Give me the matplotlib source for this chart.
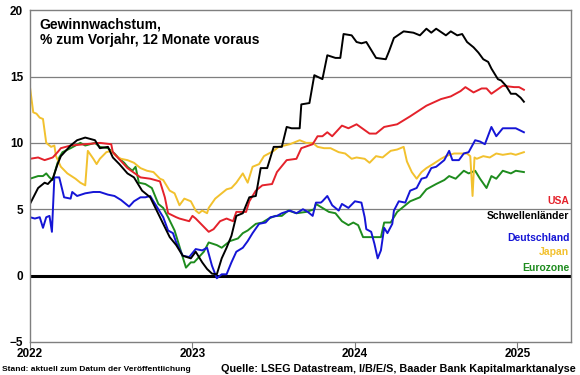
import numpy as np
import matplotlib
matplotlib.use("Agg")
import matplotlib.pyplot as plt

plt.rcParams['font.family'] = ['Liberation Sans', 'DejaVu Sans']
plt.rcParams['font.weight'] = 'bold'

# Zeitachse in Jahren (Dezimaljahre), Werte in % ggü. Vorjahr
usa_t = [2022.00, 2022.05, 2022.09, 2022.14, 2022.17, 2022.19, 2022.25, 2022.34, 2022.43, 2022.50,
         2022.51, 2022.60, 2022.68, 2022.74, 2022.80, 2022.83, 2022.85, 2022.90, 2022.92, 2022.98,
         2023.00, 2023.02, 2023.06, 2023.10, 2023.13, 2023.17, 2023.21, 2023.25, 2023.27, 2023.33,
         2023.35, 2023.39, 2023.43, 2023.49, 2023.52, 2023.58, 2023.64, 2023.67, 2023.74, 2023.77,
         2023.80, 2023.83, 2023.86, 2023.92, 2023.96, 2024.01, 2024.09, 2024.13, 2024.18, 2024.26,
         2024.34, 2024.44, 2024.53, 2024.59, 2024.65, 2024.68, 2024.73, 2024.78, 2024.81, 2024.84,
         2024.91, 2024.98, 2025.01, 2025.04]
usa_v = [8.8, 8.9, 8.7, 8.9, 9.3, 9.6, 9.8, 9.9, 10.0, 9.9,
         9.3, 8.1, 7.4, 7.3, 7.1, 5.9, 4.7, 4.4, 4.3, 4.1,
         4.5, 4.3, 3.8, 3.3, 3.5, 4.1, 4.3, 4.1, 4.8, 4.8,
         5.6, 6.4, 6.8, 6.9, 7.8, 8.7, 8.8, 9.6, 9.9, 10.5,
         10.5, 10.8, 10.5, 11.3, 11.1, 11.4, 10.7, 10.7, 11.2, 11.4,
         12.0, 12.8, 13.3, 13.5, 13.9, 14.2, 13.8, 14.1, 14.1, 13.7,
         14.3, 14.2, 14.2, 14.0]

em_t = [2022.00, 2022.05, 2022.09, 2022.11, 2022.14, 2022.17, 2022.19, 2022.25, 2022.29, 2022.34,
        2022.37, 2022.40, 2022.43, 2022.48, 2022.51, 2022.55, 2022.60, 2022.64, 2022.69, 2022.74,
        2022.78, 2022.82, 2022.86, 2022.90, 2022.94, 2022.99, 2023.02, 2023.06, 2023.09, 2023.12,
        2023.15, 2023.18, 2023.21, 2023.24, 2023.26, 2023.27, 2023.31, 2023.35, 2023.39, 2023.42,
        2023.46, 2023.50, 2023.55, 2023.58, 2023.61, 2023.66, 2023.67, 2023.72, 2023.75, 2023.80,
        2023.83, 2023.88, 2023.91, 2023.93, 2023.98, 2024.01, 2024.04, 2024.07, 2024.13, 2024.19,
        2024.21, 2024.24, 2024.30, 2024.36, 2024.40, 2024.44, 2024.47, 2024.50, 2024.56, 2024.59,
        2024.63, 2024.66, 2024.69, 2024.73, 2024.76, 2024.79, 2024.82, 2024.84, 2024.88, 2024.90,
        2024.93, 2024.96, 2024.99, 2025.02, 2025.04]
em_v = [5.4, 6.6, 7.0, 6.9, 7.3, 8.4, 9.0, 9.8, 10.2, 10.4,
        10.3, 10.2, 9.6, 9.7, 8.9, 8.4, 7.7, 7.4, 6.4, 5.9,
        4.9, 3.9, 2.9, 2.3, 1.5, 1.3, 1.8, 1.0, 0.5, 0.15,
        0.1, 1.3, 2.1, 3.0, 4.0, 4.5, 4.7, 5.9, 6.0, 8.1,
        8.1, 9.7, 9.7, 11.2, 11.1, 11.1, 12.9, 13.0, 15.1, 14.8,
        16.6, 16.4, 16.4, 18.2, 18.1, 17.6, 17.5, 17.6, 16.4, 16.3,
        16.9, 17.9, 18.4, 18.3, 18.1, 18.6, 18.3, 18.6, 18.1, 18.4,
        18.1, 18.2, 17.6, 17.2, 16.8, 16.3, 16.1, 15.6, 14.8, 14.7,
        14.3, 13.7, 13.7, 13.4, 13.1]

de_t = [2022.00, 2022.03, 2022.06, 2022.08, 2022.10, 2022.12, 2022.135, 2022.15, 2022.18, 2022.21,
        2022.25, 2022.26, 2022.29, 2022.34, 2022.39, 2022.43, 2022.48, 2022.52, 2022.56, 2022.61,
        2022.64, 2022.68, 2022.71, 2022.74, 2022.77, 2022.82, 2022.85, 2022.88, 2022.90, 2022.94,
        2022.98, 2023.02, 2023.06, 2023.09, 2023.12, 2023.15, 2023.18, 2023.21, 2023.24, 2023.27,
        2023.31, 2023.34, 2023.37, 2023.41, 2023.45, 2023.48, 2023.52, 2023.55, 2023.60, 2023.64,
        2023.68, 2023.71, 2023.74, 2023.76, 2023.79, 2023.80, 2023.83, 2023.86, 2023.90, 2023.92,
        2023.96, 2024.00, 2024.04, 2024.06, 2024.07, 2024.10, 2024.12, 2024.14, 2024.16, 2024.18,
        2024.20, 2024.23, 2024.24, 2024.27, 2024.31, 2024.34, 2024.38, 2024.41, 2024.44, 2024.47,
        2024.50, 2024.55, 2024.58, 2024.60, 2024.64, 2024.67, 2024.70, 2024.74, 2024.77, 2024.80,
        2024.84, 2024.87, 2024.91, 2024.96, 2024.99, 2025.04]
de_v = [4.4, 4.3, 4.4, 3.6, 4.4, 4.5, 3.3, 7.4, 7.4, 5.9,
        5.8, 6.3, 6.0, 6.2, 6.3, 6.3, 6.1, 6.0, 5.7, 5.2,
        5.6, 5.9, 5.9, 6.0, 5.4, 4.4, 3.4, 3.2, 2.5, 1.5,
        1.4, 2.0, 1.9, 2.1, 0.75, -0.2, 0.1, 0.1, 1.0, 1.8,
        2.1, 2.6, 3.2, 3.9, 4.0, 4.4, 4.5, 4.7, 4.9, 4.7,
        5.0, 4.8, 4.5, 5.5, 5.5, 5.6, 6.0, 5.3, 4.9, 5.4,
        5.1, 5.6, 5.5, 4.4, 3.5, 3.3, 2.4, 1.3, 1.9, 3.6,
        3.2, 3.9, 4.9, 5.6, 5.5, 6.4, 6.6, 7.3, 7.4, 8.1,
        8.2, 8.7, 9.4, 8.7, 8.7, 9.2, 9.3, 10.2, 10.1, 9.9,
        11.2, 10.5, 11.1, 11.1, 11.1, 10.8]

jp_t = [2022.00, 2022.02, 2022.04, 2022.06, 2022.08, 2022.10, 2022.13, 2022.15, 2022.16, 2022.19,
        2022.23, 2022.28, 2022.31, 2022.34, 2022.356, 2022.39, 2022.41, 2022.43, 2022.47, 2022.50,
        2022.53, 2022.56, 2022.60, 2022.64, 2022.68, 2022.72, 2022.76, 2022.80, 2022.82, 2022.86,
        2022.89, 2022.92, 2022.95, 2022.99, 2023.02, 2023.04, 2023.06, 2023.09, 2023.10, 2023.14,
        2023.18, 2023.21, 2023.24, 2023.27, 2023.31, 2023.34, 2023.37, 2023.41, 2023.44, 2023.47,
        2023.50, 2023.53, 2023.60, 2023.66, 2023.70, 2023.74, 2023.77, 2023.81, 2023.85, 2023.90,
        2023.94, 2023.98, 2024.01, 2024.06, 2024.09, 2024.13, 2024.17, 2024.22, 2024.26, 2024.30,
        2024.32, 2024.35, 2024.38, 2024.41, 2024.44, 2024.48, 2024.53, 2024.56, 2024.61, 2024.65,
        2024.69, 2024.71, 2024.724, 2024.736, 2024.75, 2024.79, 2024.83, 2024.87, 2024.91, 2024.96,
        2024.99, 2025.04]
jp_v = [14.2, 12.3, 12.2, 11.9, 11.8, 10.0, 9.7, 9.8, 9.0, 8.2,
        7.7, 7.3, 7.0, 6.8, 9.4, 8.8, 8.4, 8.8, 9.3, 9.4,
        9.0, 8.8, 8.7, 8.5, 8.1, 7.9, 7.8, 7.3, 7.2, 6.4,
        6.2, 5.3, 5.8, 5.6, 4.9, 4.7, 4.9, 4.7, 5.1, 5.8,
        6.2, 6.5, 6.6, 7.0, 7.7, 7.0, 8.2, 8.4, 9.0, 9.2,
        9.4, 9.7, 9.9, 10.2, 10.0, 10.0, 9.7, 9.6, 9.6, 9.3,
        9.2, 8.8, 8.9, 8.8, 8.5, 9.0, 8.9, 9.4, 9.5, 9.7,
        8.6, 7.8, 7.3, 7.8, 8.1, 8.4, 8.8, 9.0, 9.2, 9.2,
        9.2, 9.0, 6.0, 8.9, 8.8, 9.0, 8.9, 9.2, 9.1, 9.2,
        9.1, 9.3]

ez_t = [2022.00, 2022.05, 2022.08, 2022.10, 2022.12, 2022.14, 2022.16, 2022.18, 2022.20, 2022.25,
        2022.28, 2022.31, 2022.34, 2022.37, 2022.40, 2022.43, 2022.48, 2022.52, 2022.55, 2022.58,
        2022.60, 2022.63, 2022.65, 2022.67, 2022.71, 2022.75, 2022.79, 2022.82, 2022.85, 2022.89,
        2022.92, 2022.94, 2022.96, 2022.99, 2023.01, 2023.04, 2023.07, 2023.10, 2023.15, 2023.18,
        2023.23, 2023.28, 2023.31, 2023.34, 2023.39, 2023.43, 2023.47, 2023.51, 2023.55, 2023.59,
        2023.64, 2023.70, 2023.75, 2023.76, 2023.80, 2023.84, 2023.88, 2023.92, 2023.96, 2023.99,
        2024.02, 2024.05, 2024.08, 2024.11, 2024.16, 2024.18, 2024.22, 2024.24, 2024.26, 2024.28,
        2024.34, 2024.40, 2024.44, 2024.50, 2024.55, 2024.58, 2024.62, 2024.67, 2024.70, 2024.74,
        2024.77, 2024.81, 2024.84, 2024.87, 2024.91, 2024.96, 2024.99, 2025.04]
ez_v = [7.3, 7.5, 7.5, 7.7, 7.4, 7.2, 8.1, 8.9, 9.3, 9.6,
        9.8, 10.0, 9.8, 9.9, 10.0, 9.7, 9.6, 9.2, 8.8, 8.5,
        8.2, 7.9, 8.2, 7.0, 6.9, 6.6, 5.4, 5.1, 4.4, 3.4,
        2.2, 1.4, 0.6, 1.0, 1.0, 1.4, 1.8, 2.5, 2.3, 2.1,
        2.6, 2.8, 3.2, 3.4, 3.9, 4.0, 4.3, 4.5, 4.5, 4.9,
        4.7, 4.8, 5.0, 5.4, 5.1, 4.8, 4.7, 4.1, 3.8, 4.0,
        3.8, 2.9, 2.9, 2.9, 2.9, 4.0, 4.0, 4.4, 4.8, 5.0,
        5.6, 5.9, 6.5, 6.9, 7.2, 7.5, 7.3, 7.9, 7.7, 7.9,
        7.3, 6.6, 7.5, 7.3, 7.9, 7.7, 7.9, 7.8]

# Beschriftungen
series = [
    ("Eurozone", ez_t, ez_v, "#1e8c1e"),
    ("Japan", jp_t, jp_v, "#f2c12e"),
    ("Deutschland", de_t, de_v, "#1515d6"),
    ("USA", usa_t, usa_v, "#e4222b"),
    ("Schwellenländer", em_t, em_v, "#000000"),
]
legend_names = ["USA", "Schwellenländer", "Deutschland", "Japan", "Eurozone"]
legend_colors = ["#e4222b", "#000000", "#1515d6", "#f2c12e", "#1e8c1e"]
legend_y = [5.6, 4.5, 2.85, 1.75, 0.6]

fig = plt.figure(figsize=(5.8, 3.75), dpi=100)
ax = fig.add_axes([0.0517, 0.088, 0.9328, 0.885])

for name, t, v, c in series:
    ax.plot(t, v, color=c, linewidth=1.4, solid_joinstyle='round')

ax.set_xlim(2022.0, 2025.33)
ax.set_ylim(-5, 20)
ax.set_yticks([-5, 0, 5, 10, 15, 20])
ax.set_xticks([2022, 2023, 2024, 2025])
ax.set_xticklabels(["2022", "2023", "2024", "2025"])

# Gitterlinien
for yv in [5, 10, 15]:
    ax.axhline(yv, color='#7f7f7f', linewidth=0.9, zorder=0)
ax.axhline(0, color='black', linewidth=2.2, zorder=1)

for s in ax.spines.values():
    s.set_color('#7f7f7f')
    s.set_linewidth(1.0)

ax.tick_params(axis='y', length=0, labelsize=8.5, pad=5)
ax.tick_params(axis='x', length=4, color='#7f7f7f', labelsize=8.5, pad=0)
for lab in ax.get_xticklabels() + ax.get_yticklabels():
    lab.set_fontweight('bold')

ax.text(0.018, 0.978, "Gewinnwachstum,\n% zum Vorjahr, 12 Monate voraus",
        transform=ax.transAxes, fontsize=10, fontweight='bold', va='top', ha='left',
        linespacing=1.1)

for name, c, y in zip(legend_names, legend_colors, legend_y):
    ax.text(2025.32, y, name, color=c, fontsize=7.5, fontweight='bold', ha='right', va='center')

fig.text(0.004, 0.006, "Stand: aktuell zum Datum der Veröffentlichung", fontsize=6,
         fontweight='bold', ha='left', va='bottom')
fig.text(0.993, 0.004, "Quelle: LSEG Datastream, I/B/E/S, Baader Bank Kapitalmarktanalyse",
         fontsize=7.8, fontweight='bold', ha='right', va='bottom')

fig.savefig("out.png", dpi=100)
